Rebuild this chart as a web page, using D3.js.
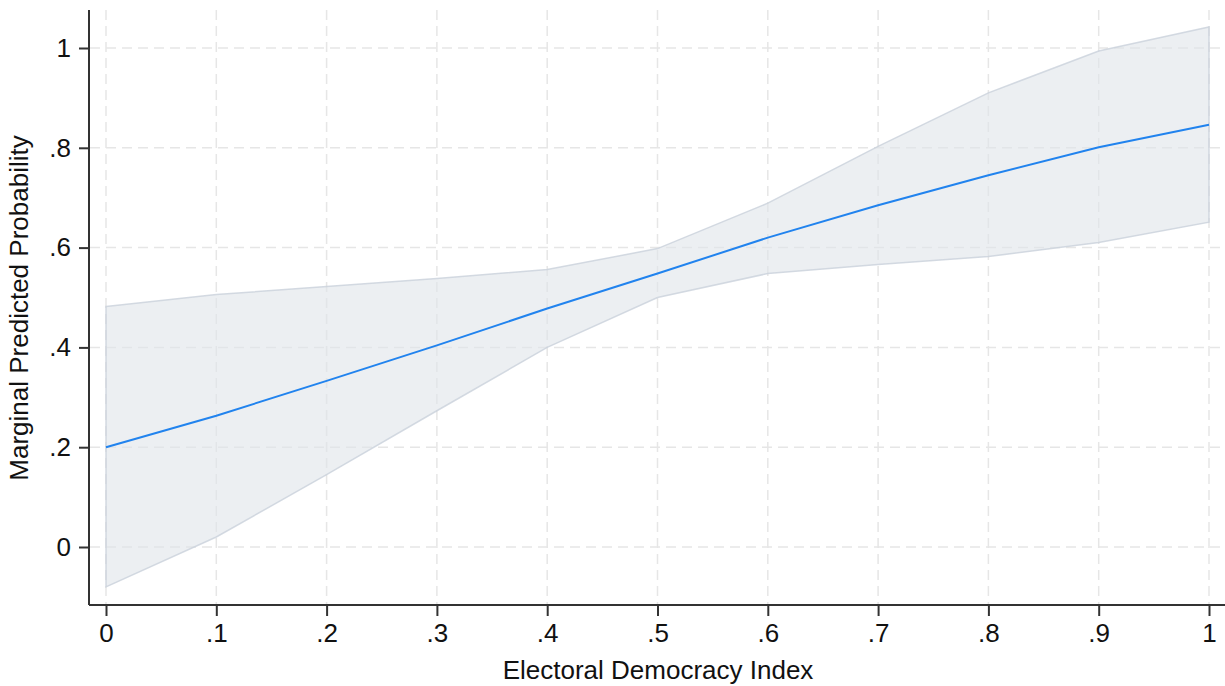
<!DOCTYPE html>
<html>
<head>
<meta charset="utf-8">
<script src="https://cdn.jsdelivr.net/npm/d3@7/dist/d3.min.js"></script>
<style>
	body { margin: 0; background: #fff; }
	svg text { font-family: "Liberation Sans", Arial, sans-serif; fill: #111; }
</style>
</head>
<body>
<svg id="chart" width="1225" height="686"></svg>
<script>
// valores
var edi = [0, .1, .2, .3, .4, .5, .6, .7, .8, .9, 1];
var prob = [0.200, 0.263, 0.333, 0.404, 0.478, 0.548, 0.620, 0.685, 0.745, 0.801, 0.846];
var ciUpper = [0.482, 0.506, 0.522, 0.538, 0.556, 0.598, 0.689, 0.803, 0.910, 0.994, 1.042];
var ciLower = [-0.080, 0.020, 0.145, 0.273, 0.400, 0.500, 0.548, 0.566, 0.582, 0.610, 0.651];
var xTicks = [0, .1, .2, .3, .4, .5, .6, .7, .8, .9, 1];
var yTicks = [0, .2, .4, .6, .8, 1];

function fmt(v) {
	if (v === 0) return "0";
	if (v === 1) return "1";
	return String(+v.toFixed(1)).replace(/^0/, "");
}

var svg = d3.select("#chart");
var x = d3.scaleLinear().domain([0, 1]).range([106, 1209]);
var y = d3.scaleLinear().domain([0, 1]).range([547, 48]);

var axisX = 89, axisY = 605;

// grid
svg.append("g").selectAll("line").data(yTicks).join("line")
	.attr("x1", axisX + 1).attr("x2", 1225)
	.attr("y1", d => y(d)).attr("y2", d => y(d))
	.attr("stroke", "#e6e6e6").attr("stroke-width", 1.5).attr("stroke-dasharray", "10,6");
svg.append("g").selectAll("line").data(xTicks).join("line")
	.attr("x1", d => x(d)).attr("x2", d => x(d))
	.attr("y1", 10).attr("y2", axisY - 1)
	.attr("stroke", "#e6e6e6").attr("stroke-width", 1.5).attr("stroke-dasharray", "10,6");

// banda de confianza
var pts = edi.map((d, i) => ({ x: d, lo: ciLower[i], hi: ciUpper[i], m: prob[i] }));
svg.append("path").datum(pts)
	.attr("d", d3.area().x(d => x(d.x)).y0(d => y(d.lo)).y1(d => y(d.hi)))
	.attr("fill", "#dfe4ea").attr("fill-opacity", 0.6)
	.attr("stroke", "#c9d1db").attr("stroke-opacity", 0.8).attr("stroke-width", 1.5);

svg.append("path").datum(pts)
	.attr("d", d3.line().x(d => x(d.x)).y(d => y(d.m)))
	.attr("fill", "none").attr("stroke", "#2183ee").attr("stroke-width", 2);

// ejes
var gx = svg.append("g").attr("transform", "translate(0," + axisY + ")")
	.call(d3.axisBottom(x).tickValues(xTicks).tickFormat(fmt).tickSize(11).tickPadding(8));
gx.select(".domain").attr("d", "M" + axisX + ",0H1225");
var gy = svg.append("g").attr("transform", "translate(" + axisX + ",0)")
	.call(d3.axisLeft(y).tickValues(yTicks).tickFormat(fmt).tickSize(10).tickPadding(8));
gy.select(".domain").attr("d", "M0,10V" + axisY);

svg.selectAll(".domain, .tick line").attr("stroke", "#333").attr("stroke-width", 2);
svg.selectAll(".tick text").style("font-size", "26px").attr("fill", "#111")
	.style("font-family", "'Liberation Sans', Arial, sans-serif");

svg.append("text").attr("x", 658).attr("y", 679).attr("text-anchor", "middle")
	.style("font-size", "26px").text("Electoral Democracy Index");
svg.append("text").attr("transform", "translate(28,308) rotate(-90)").attr("text-anchor", "middle")
	.style("font-size", "26px").text("Marginal Predicted Probability");
</script>
</body>
</html>
